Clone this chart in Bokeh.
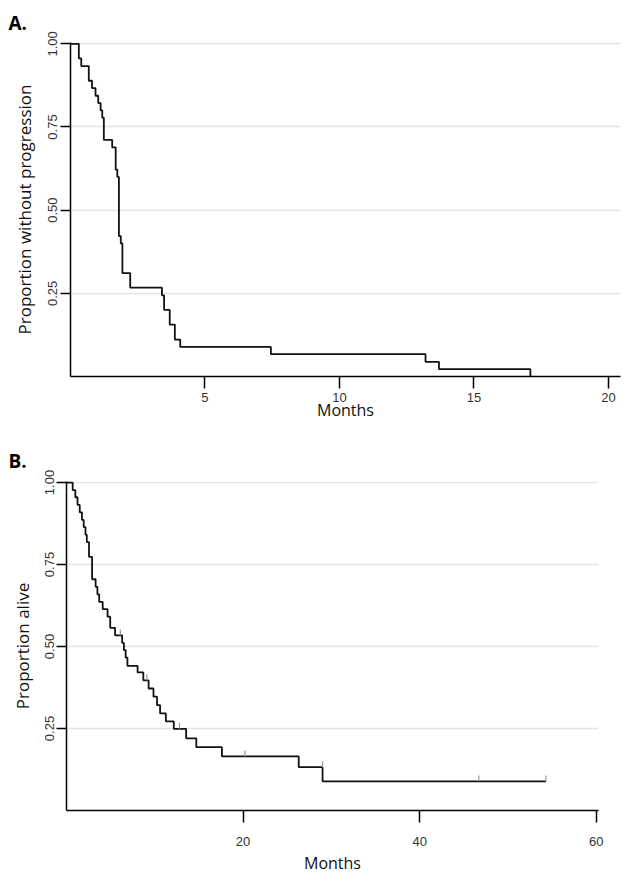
from bokeh.plotting import figure
from bokeh.models import Range1d, FixedTicker, Title
from bokeh.embed import file_html
from bokeh.resources import INLINE

# ---- Panel A: progression-free survival ----
times_a = [0, 0.31, 0.40, 0.68, 0.80, 0.93, 1.03, 1.12, 1.18, 1.24, 1.55, 1.68,
           1.74, 1.80, 1.87, 1.93, 2.22, 3.40, 3.48, 3.69, 3.88, 4.08, 7.45,
           13.2, 13.7, 17.1]
surv_a = [1.0, 0.956, 0.933, 0.889, 0.867, 0.844, 0.822, 0.800, 0.778, 0.711,
          0.689, 0.622, 0.600, 0.422, 0.400, 0.311, 0.267, 0.244, 0.200, 0.156,
          0.111, 0.089, 0.067, 0.044, 0.022, 0.0]
xticks_a = [5, 10, 15, 20]

# ---- Panel B: overall survival ----
times_b = [0, 0.7, 1.0, 1.25, 1.5, 1.75, 1.95, 2.15, 2.3, 2.55, 2.9, 3.3, 3.5,
           3.7, 4.1, 4.65, 4.95, 5.5, 6.3, 6.5, 6.7, 6.9, 8.05, 8.7, 9.3, 9.85,
           10.25, 10.6, 11.25, 12.15, 13.55, 14.7, 17.6, 26.3, 29.0, 54.3]
surv_b = [1.0, 0.977, 0.955, 0.932, 0.909, 0.886, 0.864, 0.841, 0.818, 0.773,
          0.705, 0.682, 0.659, 0.636, 0.614, 0.591, 0.557, 0.534, 0.511, 0.489,
          0.466, 0.441, 0.421, 0.397, 0.372, 0.347, 0.321, 0.296, 0.272, 0.249,
          0.220, 0.193, 0.165, 0.132, 0.089, 0.089]
censor_t_b = [6.1, 9.1, 12.8, 20.2, 29.0, 46.7, 54.3]
censor_s_b = [0.534, 0.397, 0.249, 0.165, 0.132, 0.089, 0.089]
xticks_b = [20, 40, 60]

yticks = [0.25, 0.5, 0.75, 1.0]
ytick_labels = {0.25: "0.25", 0.5: "0.50", 0.75: "0.75", 1.0: "1.00"}

TICK_FONT = "Arial"
LABEL_FONT = "Open Sans"


def style(p, xticks, ylabel, tick_out_x, label_standoff_x, axis_label_standoff_x,
          ylab_label_standoff, ylab_standoff):
    p.outline_line_color = None
    p.xgrid.visible = False
    p.ygrid.ticker = FixedTicker(ticks=yticks)
    p.ygrid.grid_line_color = "#e4e4e4"
    p.ygrid.grid_line_width = 1.5
    for ax in (p.xaxis[0], p.yaxis[0]):
        ax.axis_line_color = "black"
        ax.axis_line_width = 1.5
        ax.major_tick_line_color = "black"
        ax.major_tick_line_width = 1.5
        ax.major_tick_in = 0
        ax.minor_tick_line_color = None
        ax.major_label_text_font = TICK_FONT
        ax.major_label_text_font_size = "13px"
        ax.major_label_text_color = "#333333"
        ax.axis_label_text_font = LABEL_FONT
        ax.axis_label_text_font_style = "normal"
        ax.axis_label_text_color = "#111111"
    xa = p.xaxis[0]
    xa.ticker = FixedTicker(ticks=xticks)
    xa.major_tick_out = tick_out_x
    xa.major_label_standoff = label_standoff_x
    xa.axis_label = "Months"
    xa.axis_label_text_font_size = "16px"
    xa.axis_label_standoff = axis_label_standoff_x
    ya = p.yaxis[0]
    ya.ticker = FixedTicker(ticks=yticks)
    ya.major_label_overrides = ytick_labels
    ya.major_label_orientation = "vertical"
    ya.major_tick_out = 10
    ya.major_label_standoff = ylab_label_standoff
    ya.axis_label = ylabel
    ya.axis_label_text_font_size = "17px"
    ya.axis_label_standoff = ylab_standoff


def add_letter(p, txt, standoff):
    t = Title(text=txt, align="left", offset=8 - p.min_border_left,
              text_font=LABEL_FONT, text_font_size="19px",
              text_font_style="bold", text_color="black", standoff=standoff)
    p.add_layout(t, "above")


pA = figure(width=621, height=426, x_range=Range1d(0, 20.45),
            y_range=Range1d(0, 1.004), output_backend="svg",
            toolbar_location=None, min_border_left=70, min_border_right=1,
            min_border_top=42, min_border_bottom=50)
style(pA, xticks_a, "Proportion without progression", 12, 4, -6, 3, 10)
add_letter(pA, "A.", 14)
pA.step(times_a, surv_a, mode="after", line_color="#111111", line_width=1.8)

pB = figure(width=621, height=450, x_range=Range1d(0, 60.25),
            y_range=Range1d(0, 1.003), output_backend="svg",
            toolbar_location=None, min_border_left=66, min_border_right=23,
            min_border_top=55, min_border_bottom=66)
style(pB, xticks_b, "Proportion alive", 12, 14, 3, 2, 9)
add_letter(pB, "B.", 15)
pB.step(times_b, surv_b, mode="after", line_color="#111111", line_width=1.8)
tick_h = 0.018
pB.segment(x0=censor_t_b, y0=censor_s_b, x1=censor_t_b,
           y1=[s + tick_h for s in censor_s_b], line_color="#999999",
           line_width=1.2)

open("out.html", "w").write(file_html([pA, pB], INLINE))
